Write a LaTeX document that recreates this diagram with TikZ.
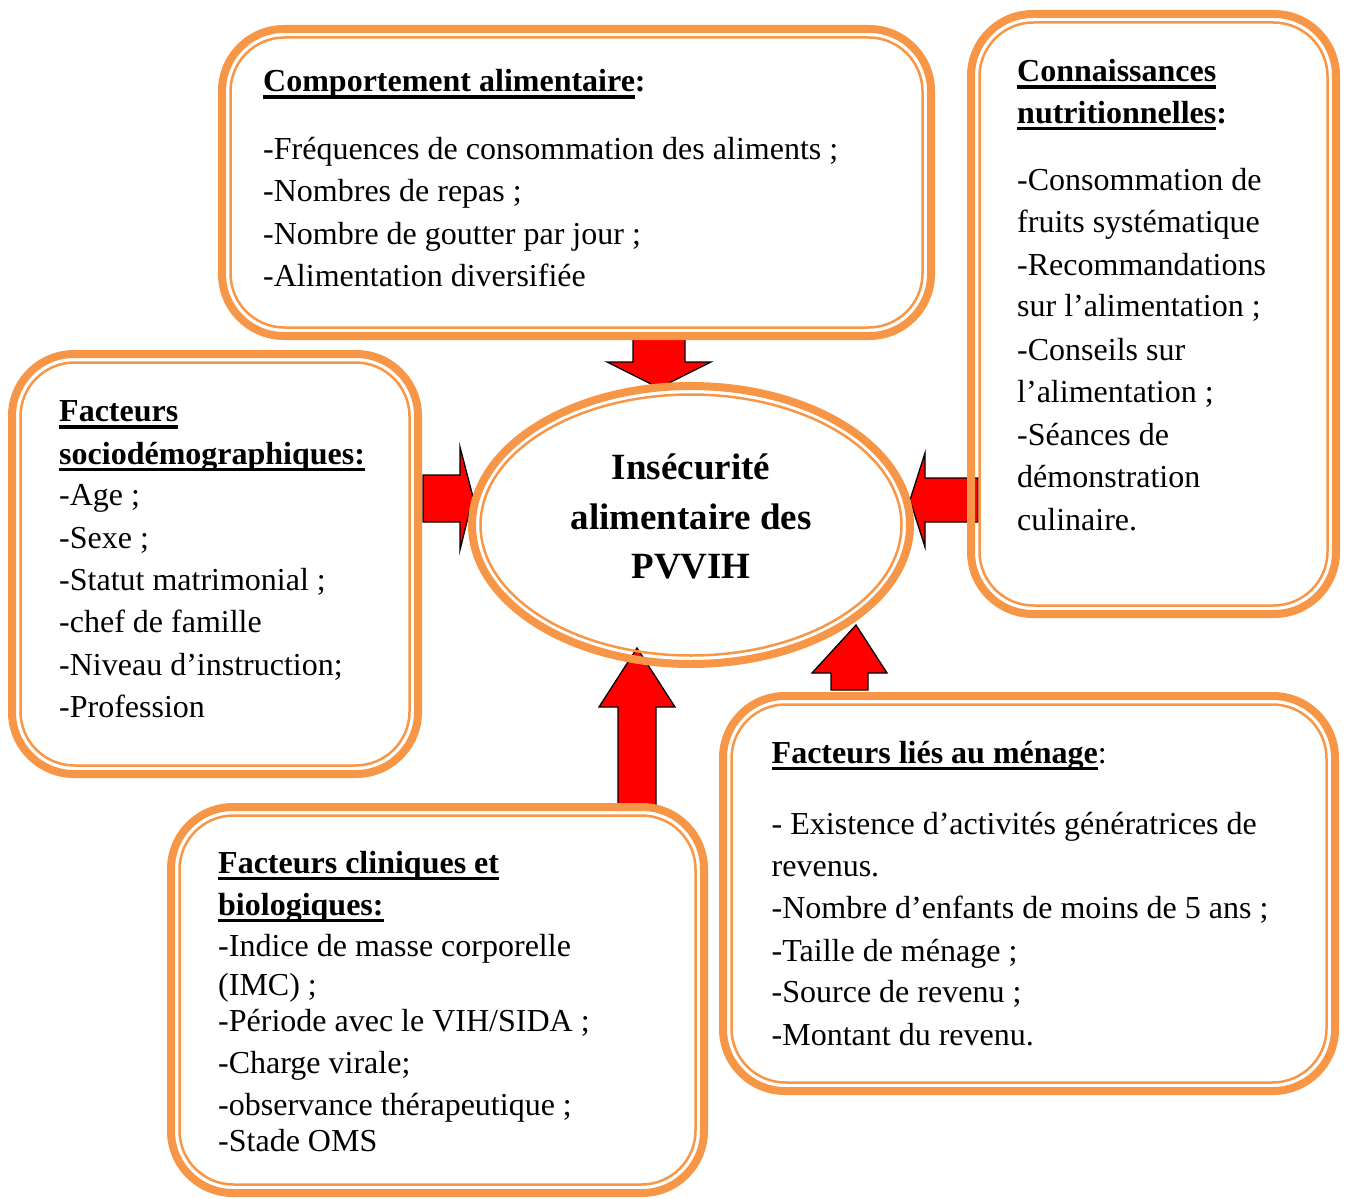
\documentclass[tikz,border=0pt]{standalone}
\usepackage{fontspec}
\setmainfont{Liberation Serif}
\usetikzlibrary{shapes.geometric}
\definecolor{boxorange}{HTML}{F79646}
\definecolor{arrowred}{HTML}{FF0000}
\newcommand\myul[1]{\begingroup\setbox0=\hbox{#1}\rlap{\rule[-7pt]{\wd0}{3.5pt}}\box0\endgroup}
\newcommand\tline[4]{\node[txt] (#1) at (#2,#3) {#4};}
\newcommand\tttl[4]{\node[ttl] (#1) at (#2,#3) {#4};}
\newcommand\innerbox[1]{\draw[innerline] ([xshift=8.5pt,yshift=-8.5pt]#1.north west) rectangle ([xshift=-8.5pt,yshift=8.5pt]#1.south east);}
\begin{document}
\begin{tikzpicture}[x=1pt,y=-1pt,
  boxnode/.style={draw=boxorange, line width=8pt, rectangle, rounded corners=62pt, inner sep=0pt, outer sep=0pt},
  innerline/.style={draw=boxorange, line width=2.5pt, rounded corners=54pt},
  txt/.style={anchor=base west, inner sep=0pt, font=\fontsize{32}{40}\selectfont},
  ttl/.style={anchor=base west, inner sep=0pt, font=\fontsize{32}{40}\selectfont\bfseries},
  ctr/.style={anchor=base, inner sep=0pt, font=\fontsize{37}{44}\selectfont\bfseries},
  blockarrow/.style={fill=arrowred, draw=black, line width=1.3pt, line join=miter}]
\useasboundingbox (0,0) rectangle (1349,1199);

% block arrows
\draw[blockarrow] (633,334) -- (685,334) -- (685,362) -- (711,362) -- (659,388) -- (607,362) -- (633,362) -- cycle;
\draw[blockarrow] (423,475) -- (460,475) -- (460,447) -- (473,497) -- (460,550) -- (460,522) -- (423,522) -- cycle;
\draw[blockarrow] (978,478) -- (925,478) -- (925,453) -- (910,500) -- (925,547) -- (925,522) -- (978,522) -- cycle;
\draw[blockarrow] (618,808) -- (618,707) -- (599,707) -- (637,648) -- (675,707) -- (656,707) -- (656,808) -- cycle;
\draw[blockarrow] (831,690) -- (831,673) -- (812,673) -- (856,625) -- (887,673) -- (868,673) -- (868,690) -- cycle;

% boxes
\node[boxnode, minimum width=709pt, minimum height=307pt] (comp) at (576.5,182.5) {};
\node[boxnode, minimum width=365pt, minimum height=600pt] (conn) at (1153.5,314) {};
\node[boxnode, minimum width=406pt, minimum height=420pt] (socio) at (215,564) {};
\node[boxnode, minimum width=533pt, minimum height=386pt] (clin) at (437.5,1000) {};
\node[boxnode, minimum width=612pt, minimum height=395pt] (men) at (1029,893.5) {};
\innerbox{comp}
\innerbox{conn}
\innerbox{socio}
\innerbox{clin}
\innerbox{men}

% central ellipse
\node[draw=boxorange, line width=8pt, ellipse, inner sep=0pt, outer sep=0pt, minimum width=438pt, minimum height=278pt] (ins) at (691,525) {};
\draw[draw=boxorange, line width=2.5pt] (ins.center) ellipse [x radius=210.5, y radius=130.5];
\node[ctr] (c1) at (691,479) {Insécurité};
\node[ctr] (c2) at (691,529) {alimentaire des};
\node[ctr] (c3) at (691,578) {PVVIH};

% Comportement alimentaire
\tttl{a0}{263}{91.7}{\myul{Comportement alimentaire}:}
\tline{a1}{263}{159.3}{-Fréquences de consommation des aliments ;}
\tline{a2}{263}{201.7}{-Nombres de repas ;}
\tline{a3}{263}{244}{-Nombre de goutter par jour ;}
\tline{a4}{263}{286}{-Alimentation diversifiée}

% Connaissances nutritionnelles
\tttl{k0}{1017}{81.7}{\myul{Connaissances}}
\tttl{k1}{1017}{123.3}{\myul{nutritionnelles}:}
\tline{k2}{1017}{190.7}{-Consommation de}
\tline{k3}{1017}{232.7}{fruits systématique}
\tline{k4}{1017}{275.7}{-Recommandations}
\tline{k5}{1017}{316.7}{sur l’alimentation ;}
\tline{k6}{1017}{360.7}{-Conseils sur}
\tline{k7}{1017}{402.7}{l’alimentation ;}
\tline{k8}{1017}{445}{-Séances de}
\tline{k9}{1017}{487.3}{démonstration}
\tline{k10}{1017}{530}{culinaire.}

% Facteurs sociodemographiques
\tttl{s0}{59}{421.7}{\myul{Facteurs}}
\tttl{s1}{59}{464}{\myul{sociodémographiques:}}
\tline{s2}{59}{505}{-Age ;}
\tline{s3}{59}{548}{-Sexe ;}
\tline{s4}{59}{590.7}{-Statut matrimonial ;}
\tline{s5}{59}{632.7}{-chef de famille}
\tline{s6}{59}{675}{-Niveau d’instruction;}
\tline{s7}{59}{717.7}{-Profession}

% Facteurs cliniques et biologiques
\tttl{l0}{218}{873.3}{\myul{Facteurs cliniques et}}
\tttl{l1}{218}{915}{\myul{biologiques:}}
\tline{l2}{218}{956.7}{-Indice de masse corporelle}
\tline{l3}{218}{995}{(IMC) ;}
\tline{l4}{218}{1031}{-Période avec le VIH/SIDA ;}
\tline{l5}{218}{1073.3}{-Charge virale;}
\tline{l6}{218}{1115}{-observance thérapeutique ;}
\tline{l7}{218}{1151.7}{-Stade OMS}

% Facteurs lies au menage
\node[txt] (m0) at (771.5,763.3) {{\bfseries\myul{Facteurs liés au ménage}}:};
\tline{m1}{771.5}{834}{- Existence d’activités génératrices de}
\tline{m2}{771.5}{876}{revenus.}
\tline{m3}{771.5}{918.3}{-Nombre d’enfants de moins de 5 ans ;}
\tline{m4}{771.5}{961}{-Taille de ménage ;}
\tline{m5}{771.5}{1002.7}{-Source de revenu ;}
\tline{m6}{771.5}{1045}{-Montant du revenu.}
\end{tikzpicture}
\end{document}
